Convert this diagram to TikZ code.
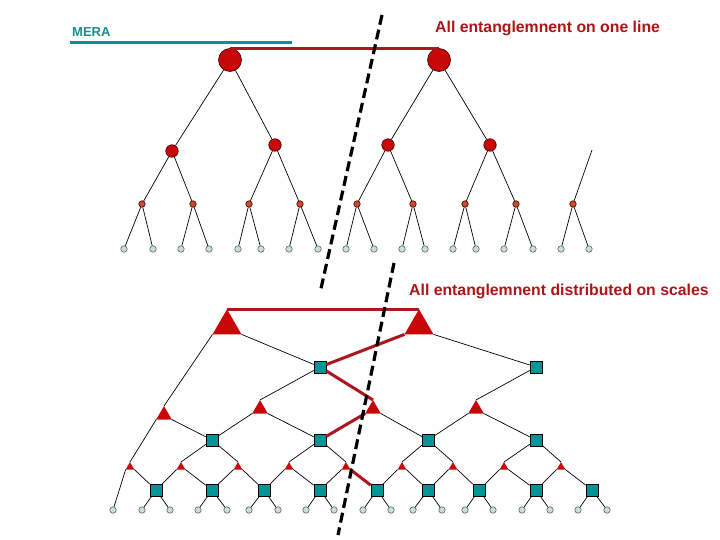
\documentclass[tikz,border=0pt]{standalone}
\usepackage{fontspec}
\setmainfont{Liberation Sans}
\usetikzlibrary{shapes.geometric}
\definecolor{meraRed}{RGB}{200,8,8}
\definecolor{meraCut}{RGB}{172,22,28}
\definecolor{meraOrange}{RGB}{212,72,42}
\definecolor{meraTeal}{RGB}{0,150,150}
\definecolor{meraTealText}{RGB}{25,140,140}
\definecolor{meraLeaf}{RGB}{200,222,222}
\definecolor{meraText}{RGB}{172,20,22}
\tikzset{
  mvroot/.style={circle, draw=black!75!meraRed, fill=meraRed, line width=0.6pt,
                 minimum size=23pt, inner sep=0pt},
  mvmid/.style ={mvroot, minimum size=12.5pt},
  mvlow/.style ={mvroot, fill=meraOrange, minimum size=6.5pt},
  mvleaf/.style={circle, draw=black!70, fill=meraLeaf, line width=0.5pt,
                 minimum size=6.5pt, inner sep=0pt},
  mvsq/.style  ={rectangle, draw=black, fill=meraTeal, line width=0.6pt,
                 minimum size=12pt, inner sep=0pt},
  mvtri/.style ={regular polygon, regular polygon sides=3, fill=meraRed,
                 draw=none, inner sep=0pt, outer sep=0pt},
  mvtribig/.style={mvtri, minimum size=33.5pt},
  mvtrimid/.style={mvtri, minimum size=18pt},
  mvtrismall/.style={mvtri, minimum size=10pt},
  mvline/.style={line width=0.7pt, black},
  mvcutline/.style={line width=3pt, meraCut},
  mvdash/.style={line width=3.2pt, black, dash pattern=on 10pt off 5pt},
  mvlabel/.style={font=\fontsize{15.8}{18}\selectfont\bfseries, text=meraText,
                  anchor=base west, inner sep=0pt},
}
\begin{document}
\begin{tikzpicture}[x=1pt, y=-1pt]
  \useasboundingbox (0,0) rectangle (720,540);
  % labels
  \node[anchor=base west, inner sep=0pt, text=meraTealText,
        font=\fontsize{13}{15}\selectfont\bfseries] (mera) at (72,37) {MERA};
  \coordinate (bar1) at (70,43);
  \coordinate (bar2) at (292,43);
  \draw[line width=3pt, meraTeal] (bar1) -- (bar2);
  \node[mvlabel] (oneline) at (435,33) {All entanglemnent on one line};
  \node[mvlabel] (scales) at (409,295) {All entanglemnent distributed on scales};

  % upper tree
  \node[mvroot] (r1) at (230,60) {};
  \node[mvroot] (r2) at (439,60) {};
  \node[mvmid] (c1) at (172,151) {};
  \node[mvmid] (c2) at (275,145) {};
  \node[mvmid] (c3) at (388,145) {};
  \node[mvmid] (c4) at (490,145) {};
  \foreach \x [count=\i] in {142,193,249,300,357,413,465,516,573}
    \node[mvlow] (d\i) at (\x,204) {};
  \foreach \x [count=\i] in {124,153,181,209,238,261,289,318,346,374,402,425,453,476,504,533,561,589}
    \node[mvleaf] (e\i) at (\x,249) {};
  \coordinate (dfree) at (592,150);
  \draw[mvcutline] (r1.north) -- (r2.north);
  \draw[mvline] (r1) -- (c1) (r1) -- (c2) (r2) -- (c3) (r2) -- (c4);
  \draw[mvline] (c1) -- (d1) (c1) -- (d2) (c2) -- (d3) (c2) -- (d4)
                (c3) -- (d5) (c3) -- (d6) (c4) -- (d7) (c4) -- (d8);
  \draw[mvline] (d9) -- (dfree);
  \foreach \i [evaluate=\i as \a using int(2*\i-1),
               evaluate=\i as \b using int(2*\i)] in {1,...,9}
    \draw[mvline] (d\i) -- (e\a) (d\i) -- (e\b);

  % lower tree
  \node[mvtribig] (T1) at (227,326) {};
  \node[mvtribig] (T2) at (419,326) {};
  \node[mvsq] (S1) at (320,367) {};
  \node[mvsq] (S2) at (536,367) {};
  \node[mvtrimid] (M1) at (164,415) {};
  \node[mvtrimid] (M2) at (260,409) {};
  \node[mvtrimid] (M3) at (373,409) {};
  \node[mvtrimid] (M4) at (476,409) {};
  \foreach \x [count=\i] in {212,320,428,536}
    \node[mvsq] (P\i) at (\x,440) {};
  \foreach \x [count=\i] in {130,181,238,289,346,402,453,504,561}
    \node[mvtrismall] (t\i) at (\x,467) {};
  \foreach \x [count=\i] in {156,212,264,320,377,428,479,536,592}
    \node[mvsq] (q\i) at (\x,490) {};
  \foreach \x [count=\i] in {113,142,170,198,227,249,278,306,334,363,391,413,442,465,493,522,550,578,607}
    \node[mvleaf] (f\i) at (\x,510) {};

  \draw[mvline] (T1.corner 2) -- (M1.corner 1) (T1.corner 3) -- (S1)
                (T2.corner 3) -- (S2);
  \draw[mvline] (S1) -- (M2.corner 1) (S2) -- (M4.corner 1);
  \draw[mvline] (M1.corner 2) -- (t1.corner 1) (M1.corner 3) -- (P1)
                (M2.corner 2) -- (P1) (M2.corner 3) -- (P2)
                (M3.corner 3) -- (P3)
                (M4.corner 2) -- (P3) (M4.corner 3) -- (P4);
  \draw[mvline] (P1) -- (t2.corner 1) (P1) -- (t3.corner 1)
                (P2) -- (t4.corner 1) (P2) -- (t5.corner 1)
                (P3) -- (t6.corner 1) (P3) -- (t7.corner 1)
                (P4) -- (t8.corner 1) (P4) -- (t9.corner 1);
  \draw[mvline] (t1.corner 2) -- (f1);
  \foreach \i in {1,2,3,4,6,7,8,9}
    \draw[mvline] (t\i.corner 3) -- (q\i);
  \foreach \i [evaluate=\i as \j using int(\i-1)] in {2,...,9}
    \draw[mvline] (t\i.corner 2) -- (q\j);
  \foreach \i [evaluate=\i as \a using int(2*\i),
               evaluate=\i as \b using int(2*\i+1)] in {1,...,9}
    \draw[mvline] (q\i) -- (f\a) (q\i) -- (f\b);

  % cut through the network
  \draw[mvcutline] (T1.corner 1) -- (T2.corner 1);
  \draw[mvcutline] (T2.corner 2) -- (S1);
  \draw[mvcutline] (S1) -- (M3.corner 1);
  \draw[mvcutline] (M3.corner 2) -- (P2);
  \draw[mvcutline] (t5.corner 3) -- (q5);

  % dashed cuts
  \coordinate (cutA1) at (382,15);
  \coordinate (cutA2) at (320,293);
  \coordinate (cutB1) at (394,263);
  \coordinate (cutB2) at (338,535);
  \draw[mvdash] (cutA1) -- (cutA2);
  \draw[mvdash] (cutB1) -- (cutB2);
\end{tikzpicture}
\end{document}
